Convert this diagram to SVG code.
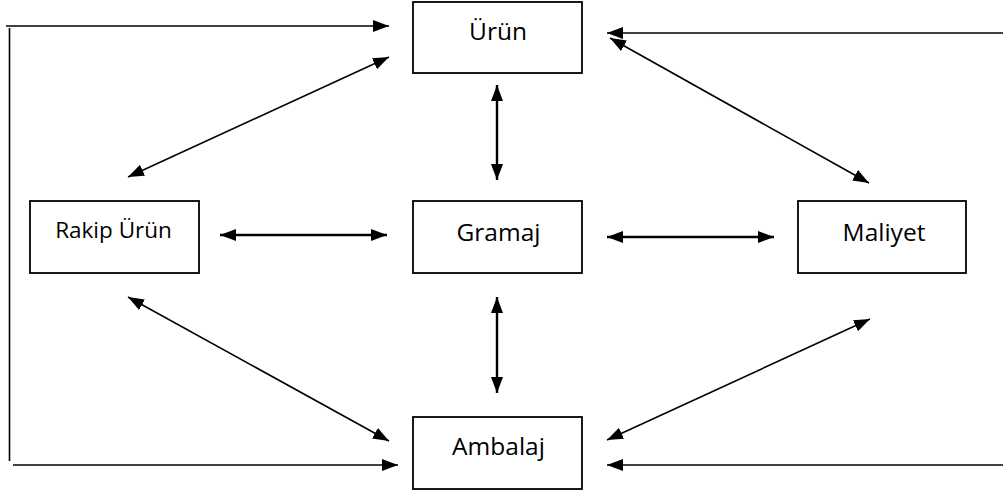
<svg xmlns="http://www.w3.org/2000/svg" width="1003" height="492" viewBox="0 0 1003 492">
<style>
.box{fill:#fff;stroke:#000;stroke-width:1.8}
.lbl{font-family:"Open Sans","Noto Sans","Liberation Sans",sans-serif;font-size:24.5px;fill:#000;text-anchor:middle}
.c{stroke:#000;stroke-width:1.6;fill:none}
.t{stroke-width:2.4}
.e{marker-end:url(#ah)}
.b{marker-start:url(#ah);marker-end:url(#ah)}
</style>
<defs>
<marker id="ah" markerUnits="userSpaceOnUse" markerWidth="17" markerHeight="13" refX="16" refY="6" orient="auto-start-reverse" viewBox="0 0 17 13">
<path d="M0,0 L16,6 L0,12 z" fill="#000"/>
</marker>
</defs>
<g id="connectors">
<line class="c e" x1="6" y1="26" x2="389" y2="26"/>
<line class="c" x1="9.5" y1="28" x2="9.5" y2="461"/>
<line class="c e" x1="13" y1="465" x2="398" y2="465"/>
<line class="c e" x1="1003" y1="33" x2="607" y2="33"/>
<line class="c e" x1="1003" y1="465" x2="607" y2="465"/>
<line class="c b" x1="128" y1="177" x2="389" y2="57"/>
<line class="c b" x1="610" y1="38" x2="869" y2="183"/>
<line class="c b" x1="128" y1="297" x2="389" y2="441"/>
<line class="c b" x1="870" y1="319" x2="607" y2="440"/>
<line class="c t b" x1="497" y1="85" x2="497" y2="180"/>
<line class="c t b" x1="497" y1="297" x2="497" y2="393"/>
<line class="c t b" x1="220" y1="235" x2="387" y2="235"/>
<line class="c t b" x1="607" y1="237" x2="774" y2="237"/>
</g>
<g id="urun">
<rect class="box" x="413" y="2" width="169" height="71"/>
<text class="lbl" x="498" y="40">Ürün</text>
</g>
<g id="rakip-urun">
<rect class="box" x="30" y="201" width="169" height="72"/>
<text class="lbl" x="113.5" y="238" style="font-size:22.5px">Rakip Ürün</text>
</g>
<g id="gramaj">
<rect class="box" x="413" y="201" width="169" height="72"/>
<text class="lbl" x="498.5" y="241">Gramaj</text>
</g>
<g id="maliyet">
<rect class="box" x="798" y="201" width="168" height="72"/>
<text class="lbl" x="884" y="241">Maliyet</text>
</g>
<g id="ambalaj">
<rect class="box" x="413" y="417" width="169" height="72"/>
<text class="lbl" x="498.5" y="455">Ambalaj</text>
</g>
</svg>
